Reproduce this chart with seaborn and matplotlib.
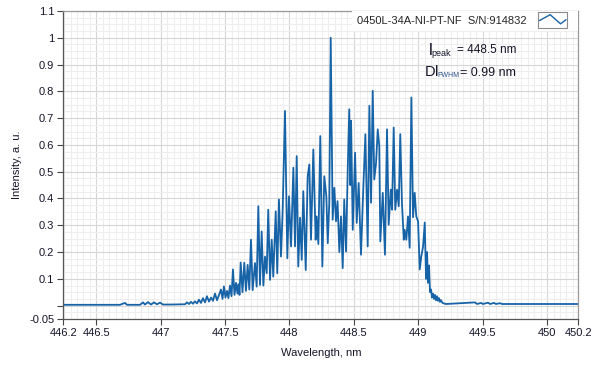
import matplotlib
matplotlib.use('Agg')
import matplotlib.pyplot as plt
import seaborn as sns
import pandas as pd
from matplotlib.ticker import MultipleLocator
from matplotlib.legend_handler import HandlerBase
from matplotlib.patches import Rectangle
from matplotlib.lines import Line2D

# spectrum (peaks and valleys)
wavelength_nm = [
    446.244, 446.684, 446.723, 446.738, 446.839, 446.863, 446.878, 446.901,
    446.925, 446.948, 446.971, 446.995, 447.018, 447.072, 447.189, 447.204,
    447.220, 447.235, 447.251, 447.266, 447.282, 447.297, 447.313, 447.328,
    447.344, 447.359, 447.375, 447.391, 447.406, 447.422, 447.437, 447.453,
    447.468, 447.480, 447.491, 447.503, 447.515, 447.526, 447.538, 447.550,
    447.561, 447.573, 447.585, 447.596, 447.604, 447.612, 447.621, 447.635,
    447.649, 447.662, 447.675, 447.688, 447.701, 447.714, 447.732, 447.745,
    447.758, 447.771, 447.784, 447.797, 447.810, 447.823, 447.835, 447.849,
    447.862, 447.874, 447.893, 447.905, 447.918, 447.934, 447.947, 447.965,
    447.983, 447.996, 448.012, 448.030, 448.043, 448.056, 448.068, 448.082,
    448.095, 448.107, 448.126, 448.141, 448.154, 448.167, 448.185, 448.203,
    448.211, 448.224, 448.239, 448.255, 448.270, 448.286, 448.297, 448.309,
    448.320, 448.335, 448.348, 448.361, 448.373, 448.387, 448.400, 448.413,
    448.425, 448.439, 448.452, 448.464, 448.472, 448.478, 448.491, 448.509,
    448.522, 448.537, 448.555, 448.573, 448.589, 448.607, 448.620, 448.633,
    448.646, 448.658, 448.672, 448.685, 448.697, 448.705, 448.724, 448.741,
    448.757, 448.770, 448.786, 448.796, 448.809, 448.821, 448.835, 448.848,
    448.860, 448.873, 448.887, 448.894, 448.907, 448.920, 448.933, 448.946,
    448.959, 448.972, 448.984, 448.998, 449.011, 449.023, 449.037, 449.050,
    449.060, 449.068, 449.075, 449.083, 449.091, 449.099, 449.106, 449.114,
    449.122, 449.130, 449.137, 449.145, 449.153, 449.161, 449.168, 449.176,
    449.188, 449.200, 449.215, 449.440, 449.456, 449.487, 449.502, 449.541,
    449.557, 449.588, 449.603, 449.634, 449.650, 450.242,
]
intensity = [
    0.003, 0.003, 0.010, 0.003, 0.003, 0.012, 0.004, 0.013,
    0.004, 0.012, 0.005, 0.011, 0.004, 0.004, 0.005, 0.012,
    0.006, 0.014, 0.007, 0.016, 0.008, 0.022, 0.010, 0.028,
    0.012, 0.035, 0.015, 0.030, 0.018, 0.045, 0.020, 0.040,
    0.060, 0.025, 0.072, 0.030, 0.055, 0.028, 0.075, 0.035,
    0.135, 0.040, 0.085, 0.045, 0.080, 0.040, 0.161, 0.050,
    0.160, 0.055, 0.152, 0.060, 0.246, 0.058, 0.159, 0.071,
    0.371, 0.077, 0.277, 0.075, 0.183, 0.121, 0.358, 0.096,
    0.246, 0.108, 0.352, 0.121, 0.396, 0.183, 0.358, 0.727,
    0.177, 0.408, 0.221, 0.515, 0.221, 0.558, 0.146, 0.328,
    0.171, 0.427, 0.133, 0.483, 0.527, 0.246, 0.583, 0.246,
    0.333, 0.230, 0.633, 0.146, 0.483, 0.408, 0.233, 0.384,
    1.000, 0.321, 0.440, 0.315, 0.390, 0.200, 0.333, 0.140,
    0.396, 0.202, 0.508, 0.733, 0.450, 0.690, 0.283, 0.571,
    0.309, 0.458, 0.190, 0.440, 0.640, 0.221, 0.746, 0.384,
    0.802, 0.471, 0.533, 0.658, 0.596, 0.240, 0.421, 0.190,
    0.658, 0.302, 0.433, 0.358, 0.665, 0.358, 0.433, 0.371,
    0.640, 0.384, 0.246, 0.283, 0.246, 0.333, 0.216, 0.777,
    0.330, 0.421, 0.333, 0.315, 0.135, 0.183, 0.221, 0.310,
    0.100, 0.200, 0.085, 0.150, 0.050, 0.060, 0.030, 0.045,
    0.025, 0.040, 0.020, 0.035, 0.018, 0.028, 0.014, 0.020,
    0.010, 0.008, 0.006, 0.012, 0.006, 0.010, 0.006, 0.011,
    0.006, 0.010, 0.006, 0.009, 0.006, 0.006,
]
assert len(wavelength_nm) == len(intensity)

x_range = (446.244, 450.242)
y_range = (-0.05, 1.1)
x_ticks = [446.244, 446.5, 447, 447.5, 448, 448.5, 449, 449.5, 450, 450.242]
x_tick_labels = ['446.2', '446.5', '447', '447.5', '448', '448.5', '449', '449.5', '450', '450.2']
y_ticks = [-0.05, 0, 0.1, 0.2, 0.3, 0.4, 0.5, 0.6, 0.7, 0.8, 0.9, 1.0, 1.1]
y_tick_labels = ['-0.05', '', '0.1', '0.2', '0.3', '0.4', '0.5', '0.6', '0.7', '0.8', '0.9', '1', '1.1']
legend_label = '0450L-34A-NI-PT-NF  S/N:914832'
peak_value = '= 448.5 nm'
fwhm_value = '= 0.99 nm'

LINE_COLOR = '#1763a8'
TEXT_COLOR = '#15152a'


class BoxedLineHandler(HandlerBase):
    # LabVIEW style plot-legend icon: small box with a zigzag in it
    def create_artists(self, legend, orig_handle, xdescent, ydescent,
                       width, height, fontsize, trans):
        x0, y0 = -xdescent, -ydescent
        box_w = 2.6 * fontsize
        box_h = 2.0 * height
        by = y0 + height / 2 - box_h / 2
        box = Rectangle((x0, by), box_w, box_h, fill=False,
                        edgecolor='#8a8a8a', lw=0.8, transform=trans)
        fx = [0.06, 0.43, 0.79, 0.98]
        fy = [0.47, 0.85, 0.26, 0.53]
        line = Line2D([x0 + f * box_w for f in fx], [by + f * box_h for f in fy],
                      color=LINE_COLOR, lw=1.0, transform=trans)
        return [box, line]


sns.set_theme(style='white')
plt.rcParams['font.family'] = ['Liberation Sans', 'DejaVu Sans']

W, H = 599, 370
fig = plt.figure(figsize=(W / 100, H / 100), dpi=100)
ax = fig.add_axes([63.3 / W, 1 - 319 / H, 515 / W, 308 / H])

df = pd.DataFrame({'wavelength': wavelength_nm, 'intensity': intensity})
sns.lineplot(data=df, x='wavelength', y='intensity', ax=ax, color=LINE_COLOR,
             lw=1.3, estimator=None, sort=False)

ax.set_xlim(*x_range)
ax.set_ylim(*y_range)
ax.set_xticks(x_ticks, x_tick_labels)
ax.set_yticks(y_ticks, y_tick_labels)
ax.xaxis.set_minor_locator(MultipleLocator(0.05))
ax.yaxis.set_minor_locator(MultipleLocator(0.025))
ax.grid(which='minor', color='#eeeeee', lw=0.8)
ax.grid(which='major', color='#d6d6d6', lw=0.8)
ax.set_axisbelow(True)
ax.tick_params(which='minor', length=0)
ax.tick_params(which='major', direction='out', length=4.5, width=0.8,
               color='#444444', labelsize=8, labelcolor=TEXT_COLOR,
               left=True, bottom=True, pad=2)
for side, sp in ax.spines.items():
    sp.set_linewidth(0.9)
    sp.set_color('#555555' if side in ('left', 'bottom') else '#9a9a9a')

ax.set_xlabel('Wavelength, nm', fontsize=8, color=TEXT_COLOR, labelpad=7)
ax.set_ylabel('Intensity, a. u.', fontsize=8, color=TEXT_COLOR, labelpad=5)

ax.legend(handles=[ax.lines[0]], labels=[legend_label], loc='upper right',
          borderaxespad=0, frameon=True, facecolor='white', edgecolor='none',
          framealpha=1, fancybox=False, markerfirst=False, handlelength=3.2,
          handletextpad=1.0, borderpad=0.45, fontsize=8,
          handler_map={Line2D: BoxedLineHandler()})


def put(px, py, s, size, color=TEXT_COLOR):
    fig.text(px / W, 1 - py / H, s, fontsize=size, color=color,
             ha='left', va='baseline')


# peak / fwhm readout
put(428.5, 55, 'l', 12)
put(431.5, 56, 'peak', 6.5)
put(456.7, 52.7, peak_value, 8.5)
put(425, 76, 'D', 10.5)
put(434.5, 76, 'l', 11)
put(437.0, 77, 'FWHM', 5, color='#2b4f86')
put(460, 76, fwhm_value, 9)

fig.savefig('out.png', dpi=100)
